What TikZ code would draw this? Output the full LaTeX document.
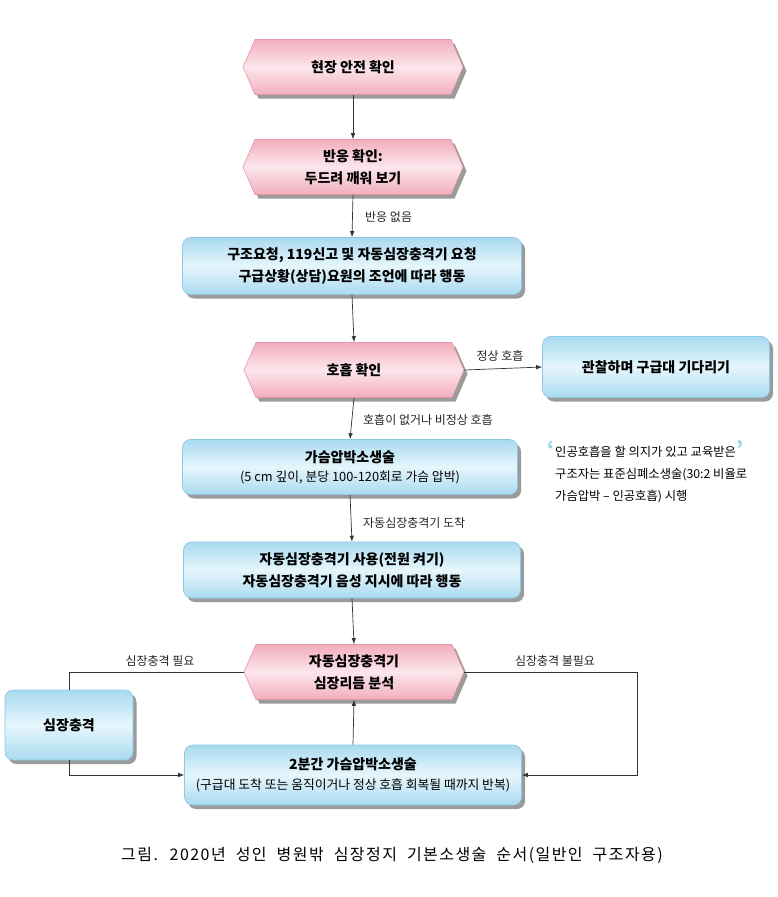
\documentclass[tikz,border=0pt]{standalone}
\usepackage{fontspec}
\setmainfont{Noto Sans CJK KR}
\newfontfamily\capfont{Noto Sans CJK KR}[LetterSpace=9,WordSpace=2]
\usetikzlibrary{shapes.symbols,shadows,arrows.meta,calc}
\definecolor{hexedge}{HTML}{F3AEBD}
\definecolor{hexmid}{HTML}{FCE6EC}
\definecolor{hexborder}{HTML}{E396A6}
\definecolor{blueedge}{HTML}{A9DAF0}
\definecolor{bluemid}{HTML}{E6F6FC}
\definecolor{blueborder}{HTML}{8CC8E4}
\definecolor{quotecol}{HTML}{9DD2EC}
\definecolor{linecol}{HTML}{333333}
\newcommand\mysmall{\mdseries\fontsize{12.8}{15}\selectfont}
\tikzset{
  myshadow/.style={drop shadow={shadow xshift=3.5pt,shadow yshift=-4pt,opacity=0.6,fill=black!65}},
  hexbox/.style={signal, signal to=west and east, signal pointer angle=133,
    draw=hexborder, line width=0.6pt, top color=hexedge, bottom color=hexedge, middle color=hexmid,
    minimum width=220pt, minimum height=55pt, inner sep=0pt, align=center,
    font=\bfseries\fontsize{14}{22}\selectfont, myshadow},
  bluebox/.style={rectangle, rounded corners=8pt, draw=blueborder, line width=0.6pt,
    top color=blueedge, bottom color=blueedge, middle color=bluemid,
    inner sep=0pt, align=center, font=\bfseries\fontsize{14}{22}\selectfont, myshadow},
  arr/.style={draw=linecol, line width=0.7pt, -{Latex[length=6pt,width=4.5pt]}},
  plain/.style={draw=linecol, line width=0.7pt},
  lab/.style={font=\fontsize{12}{14}\selectfont, inner sep=1pt, text=black!85},
}
\begin{document}
\begin{tikzpicture}[x=1pt,y=-1pt]
\useasboundingbox[fill=white] (0,0) rectangle (777,897);

\node[hexbox] (h1) at (353,67) {현장 안전 확인};
\node[hexbox] (h2) at (353,167) {반응 확인:\\두드려 깨워 보기};
\node[bluebox, minimum width=339pt, minimum height=57pt] (b1) at (352,266)
  {구조요청, 119신고 및 자동심장충격기 요청\\구급상황(상담)요원의 조언에 따라 행동};
\node[hexbox] (h3) at (354,370) {호흡 확인};
\node[bluebox, minimum width=227pt, minimum height=61pt] (r1) at (656,367) {관찰하며 구급대 기다리기};
\node[bluebox, minimum width=335pt, minimum height=55pt] (b2) at (350,467)
  {가슴압박소생술\\[-3pt]{\mysmall (5 cm 깊이, 분당 100-120회로 가슴 압박)}};
\node[bluebox, minimum width=337pt, minimum height=56pt] (b3) at (352,570)
  {자동심장충격기 사용(전원 켜기)\\자동심장충격기 음성 지시에 따라 행동};
\node[hexbox] (h4) at (354,672) {자동심장충격기\\심장리듬 분석};
\node[bluebox, minimum width=128pt, minimum height=70pt] (s1) at (69,725) {심장충격};
\node[bluebox, minimum width=337pt, minimum height=60pt] (b4) at (353,775)
  {2분간 가슴압박소생술\\[-2pt]{\mysmall (구급대 도착 또는 움직이거나 정상 호흡 회복될 때까지 반복)}};

% side note
\node[anchor=north west, align=left, inner sep=0pt, font=\fontsize{12.3}{22}\selectfont] (note) at (555,440)
  {\llap{\textcolor{quotecol}{\bfseries\fontsize{20}{20}\selectfont‘}\hspace{1pt}}인공호흡을 할 의지가 있고 교육받은\rlap{\hspace{1pt}\textcolor{quotecol}{\bfseries\fontsize{20}{20}\selectfont’}}\\구조자는 표준심폐소생술(30:2 비율로\\가슴압박 – 인공호흡) 시행};

% labels
\node[lab, anchor=west] (l1) at (364,217) {반응 없음};
\node[lab] (l2) at (500,356) {정상 호흡};
\node[lab, anchor=west] (l3) at (362,420) {호흡이 없거나 비정상 호흡};
\node[lab, anchor=west] (l4) at (362,523) {자동심장충격기 도착};
\node[lab] (l5) at (160,661) {심장충격 필요};
\node[lab] (l6) at (555,661) {심장충격 불필요};

% caption
\node[font=\capfont\fontsize{16}{19}\selectfont, inner sep=0pt] (cap) at (392,855)
  {그림. 2020년 성인 병원밖 심장정지 기본소생술 순서(일반인 구조자용)};

% connectors
\draw[arr] (h1.south) -- (h2.north);
\draw[arr] (h2.south) -- (b1.north);
\draw[arr] (b1.south) -- (h3.north);
\draw[arr] (h3.east) -- (r1.west);
\draw[arr] (h3.south) -- (b2.north);
\draw[arr] (b2.south) -- (b3.north);
\draw[arr] (b3.south) -- (h4.north);
\draw[plain] (h4.west) -| (s1.north);
\draw[arr] (s1.south) |- (b4.west);
\coordinate (rc) at (637,775);
\draw[arr] (h4.east) -| (rc) -- (b4.east);
\draw[arr] (b4.north) -- (h4.south);
\end{tikzpicture}
\end{document}
